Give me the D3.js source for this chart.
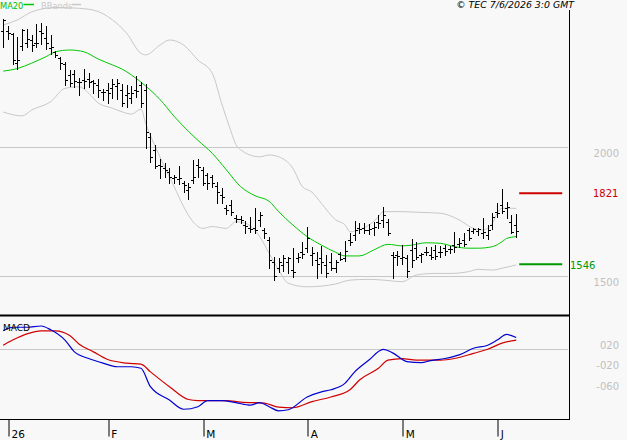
<!DOCTYPE html>
<html>
<head>
<meta charset="utf-8">
<script src="https://cdn.jsdelivr.net/npm/d3@7"></script>
<style>
  html, body { margin: 0; padding: 0; background: #f8f8f8; }
  svg { display: block; font-family: "DejaVu Sans", Verdana, sans-serif; }
</style>
</head>
<body>
<svg id="chart" width="627" height="440"></svg>
<script>
// daily bars, 31 Dec 2025 .. 5 Jun 2026 (index 0..108)
const open = [2453,2452,2440,2328,2394,2405,2417,2405,2452,2425,2386,2370,2347,2324,2281,2285,2254,2261,2265,2258,
  2242,2215,2223,2230,2238,2223,2203,2191,2223,2242,2223,2040,1990,1931,1920,1904,1881,1877,1861,1834,
  1873,1931,1912,1892,1885,1850,1815,1764,1776,1725,1721,1698,1686,1686,1718,1679,1640,1554,1531,1543,
  1554,1523,1570,1593,1609,1582,1562,1570,1543,1554,1531,1585,1570,1640,1659,1686,1686,1679,1686,1710,
  1718,1710,1582,1582,1570,1570,1601,1609,1582,1593,1582,1601,1593,1609,1605,1620,1624,1640,1679,1675,
  1675,1667,1659,1698,1749,1776,1764,1711,1698];
const high = [2497,2472,2443,2427,2458,2458,2436,2479,2484,2471,2436,2375,2352,2333,2300,2300,2268,2303,2287,2261,
  2264,2225,2249,2264,2264,2246,2242,2238,2277,2255,2246,2054,2009,1953,1938,1918,1892,1927,1870,1862,
  1951,1953,1922,1899,1892,1866,1841,1776,1795,1737,1733,1715,1728,1763,1750,1685,1653,1575,1569,1582,
  1573,1608,1591,1633,1689,1611,1594,1617,1582,1588,1562,1594,1637,1666,1715,1705,1705,1702,1711,1737,
  1769,1720,1594,1598,1620,1582,1643,1633,1588,1614,1614,1620,1617,1620,1617,1672,1646,1668,1685,1685,
  1685,1724,1698,1744,1782,1837,1789,1737,1741];
const low = [2389,2420,2324,2303,2378,2391,2375,2391,2400,2381,2361,2352,2303,2242,2238,2235,2203,2229,2235,2212,
  2194,2184,2171,2193,2186,2160,2158,2171,2197,2158,1996,1944,1918,1880,1886,1862,1862,1857,1827,1798,
  1862,1886,1853,1837,1847,1782,1785,1741,1737,1711,1707,1668,1672,1668,1694,1646,1530,1484,1517,1521,
  1510,1495,1556,1569,1594,1543,1491,1510,1495,1523,1517,1562,1559,1620,1640,1668,1666,1663,1659,1685,
  1692,1659,1491,1543,1547,1497,1536,1565,1556,1582,1565,1565,1575,1582,1588,1594,1614,1617,1640,1668,
  1659,1646,1643,1681,1730,1746,1724,1668,1653];
const close = [2495,2444,2339,2339,2456,2421,2399,2406,2444,2405,2390,2359,2328,2261,2251,2259,2255,2259,2254,2250,
  2223,2216,2211,2246,2250,2173,2211,2211,2220,2171,2061,1963,1927,1927,1912,1886,1885,1881,1853,1846,
  1886,1922,1860,1862,1862,1827,1807,1756,1749,1721,1718,1694,1683,1679,1737,1667,1562,1500,1556,1569,
  1568,1517,1575,1585,1648,1589,1547,1556,1512,1531,1554,1566,1598,1633,1679,1683,1679,1683,1692,1705,
  1737,1668,1575,1578,1574,1521,1562,1575,1585,1594,1575,1578,1594,1598,1604,1614,1627,1624,1646,1681,
  1681,1672,1679,1728,1746,1754,1769,1672,1676];

// MA20 (bar index, value)
const maIdx = [0,3,6,9,11,14,17,20,23,25,27,30,33,36,39,41,44,47,50,53,56,58,61,64,67,70,72,75,78,81,84,86,89,92,95,98,100,103,105,106,108];
const maVal = [2296,2306,2327,2352,2371,2378,2371,2343,2320,2304,2281,2238,2186,2120,2062,2027,1977,1912,1847,1812,
  1790,1750,1698,1653,1620,1592,1578,1578,1601,1623,1617,1620,1629,1627,1614,1608,1608,1614,1633,1646,1653];

// Bollinger bands
const bbUpIdx = [0,3,6,11,15,19,23,26,29,30,33,35,38,41,44,46,48,49,50,54,56,58,61,63,65,67,70,72,73,75,77,79,80,84,88,92,96,99,101,103,104,105,108];
const bbUpVal = [2475,2495,2526,2543,2541,2533,2495,2443,2365,2359,2397,2417,2397,2339,2288,2170,2060,2010,1990,1963,
  1970,1963,1918,1847,1826,1782,1718,1698,1672,1679,1698,1730,1750,1750,1747,1744,1718,1685,1679,1705,1744,1763,1763];
const bbLoIdx = [0,4,6,10,13,16,18,20,23,25,27,29,30,33,36,38,40,42,44,47,49,51,54,56,58,60,64,70,73,77,80,84,87,91,94,98,100,103,105,108];
const bbLoVal = [2137,2122,2145,2177,2229,2235,2210,2172,2152,2138,2129,2148,2093,1963,1847,1769,1710,1685,1692,1685,
  1711,1705,1653,1588,1523,1472,1458,1469,1484,1487,1484,1478,1504,1510,1510,1517,1526,1523,1530,1543];

// MACD and signal
const macdIdx = [0,2,5,8,10,13,15,18,21,24,27,29,31,35,38,41,43,46,49,52,54,56,58,60,64,67,69,72,74,77,80,82,85,88,90,93,96,99,102,104,106,108];
const macdVal = [0.36,0.43,0.43,0.455,0.38,0.18,-0.05,-0.18,-0.27,-0.34,-0.34,-0.37,-0.73,-0.99,-1.17,-1.12,-1.00,-1.00,-1.04,-1.09,
  -1.04,-1.12,-1.20,-1.18,-0.93,-0.83,-0.79,-0.66,-0.44,-0.21,0.0,-0.07,-0.24,-0.26,-0.22,-0.18,-0.11,0.02,0.08,0.18,0.29,0.23];
const sigIdx = [0,2,5,8,11,14,16,19,22,26,29,31,35,39,41,47,50,55,58,61,65,69,73,75,79,81,84,87,92,95,99,102,105,108];
const sigVal = [0.08,0.18,0.30,0.36,0.36,0.27,0.10,-0.05,-0.20,-0.27,-0.29,-0.44,-0.73,-0.98,-1.00,-1.00,-1.03,-1.05,-1.13,-1.14,
  -1.02,-0.93,-0.79,-0.60,-0.37,-0.21,-0.18,-0.21,-0.21,-0.18,-0.08,0.0,0.12,0.18];

const monthIdx = [1,22,42,64,84,104];
const monthLabels = ["26","F","M","A","M","J"];
const priceTicks = [1500,2000];
const macdTicks = [0.2,-0.2,-0.6];
const macdTickLabels = ["020","-020","-060"];
const resistance = 1821;
const support = 1546;

const svg = d3.select("#chart");
const W = 627, H = 440;
const plotRight = 569;

svg.append("rect").attr("width", W).attr("height", H).attr("fill", "#f8f8f8");

const xScale = d3.scaleLinear().domain([0, 108]).range([3.2, 516.2]);
const yPrice = d3.scaleLinear().domain([1500, 2000]).range([276, 147.3]);
const yMacd = d3.scaleLinear().domain([-0.6, 0.2]).range([380.05, 339.05]);

svg.append("clipPath").attr("id", "mainClip")
  .append("rect").attr("x", 0).attr("y", 0).attr("width", plotRight).attr("height", 314);
svg.append("clipPath").attr("id", "macdClip")
  .append("rect").attr("x", 0).attr("y", 317).attr("width", plotRight).attr("height", 102);

// grid lines
svg.append("g").selectAll("line").data(priceTicks).join("line")
  .attr("x1", 0).attr("x2", plotRight - 1)
  .attr("y1", d => Math.round(yPrice(d)) + 0.5).attr("y2", d => Math.round(yPrice(d)) + 0.5)
  .attr("stroke", "#c8c8c8");
svg.append("line")
  .attr("x1", 0).attr("x2", plotRight - 1)
  .attr("y1", Math.round(yMacd(0)) + 0.5).attr("y2", Math.round(yMacd(0)) + 0.5)
  .attr("stroke", "#c8c8c8");

const main = svg.append("g").attr("clip-path", "url(#mainClip)");

const bandLine = (idx, vals) => d3.line()
  .x(d => xScale(idx[d]))
  .y(d => yPrice(vals[d]))
  .curve(d3.curveMonotoneX)(d3.range(idx.length));

main.append("path").attr("d", bandLine(bbUpIdx, bbUpVal))
  .attr("fill", "none").attr("stroke", "#c8c8c8").attr("stroke-width", 1);
main.append("path").attr("d", bandLine(bbLoIdx, bbLoVal))
  .attr("fill", "none").attr("stroke", "#c8c8c8").attr("stroke-width", 1);
main.append("path").attr("d", bandLine(maIdx, maVal))
  .attr("fill", "none").attr("stroke", "#00c800").attr("stroke-width", 1);

// OHLC bars
const px = i => Math.round(xScale(i)) + 0.5;
const py = v => Math.round(yPrice(v)) + 0.5;
main.append("g").selectAll("path").data(d3.range(open.length)).join("path")
  .attr("d", i => `M${px(i)},${py(high[i]) - 0.5}V${py(low[i]) + 0.5}` +
                  `M${px(i) - 2.5},${py(open[i])}H${px(i)}` +
                  `M${px(i)},${py(close[i])}H${px(i) + 2.5}`)
  .attr("fill", "none").attr("stroke", "#000").attr("stroke-width", 1)
  .attr("shape-rendering", "crispEdges");

// support / resistance marks
const lvlX0 = xScale(108) + 3;
const lvlX1 = lvlX0 + 43;
svg.append("line").attr("x1", lvlX0).attr("x2", lvlX1)
  .attr("y1", yPrice(resistance)).attr("y2", yPrice(resistance))
  .attr("stroke", "#cc0000").attr("stroke-width", 2);
svg.append("line").attr("x1", lvlX0).attr("x2", lvlX1)
  .attr("y1", yPrice(support)).attr("y2", yPrice(support))
  .attr("stroke", "#009900").attr("stroke-width", 2);
svg.append("text").attr("x", 593).attr("y", yPrice(resistance) + 4)
  .attr("fill", "#cc0000").style("font-size", "10px").text(resistance);
svg.append("text").attr("x", 570).attr("y", yPrice(support) + 5)
  .attr("fill", "#009900").style("font-size", "10px").text(support);

// MACD panel
const macdG = svg.append("g").attr("clip-path", "url(#macdClip)");
const macdLine = (idx, vals) => d3.line()
  .x(d => xScale(idx[d]))
  .y(d => yMacd(vals[d]))
  .curve(d3.curveMonotoneX)(d3.range(idx.length));
macdG.append("path").attr("d", macdLine(sigIdx, sigVal))
  .attr("fill", "none").attr("stroke", "#d00000").attr("stroke-width", 1.2);
macdG.append("path").attr("d", macdLine(macdIdx, macdVal))
  .attr("fill", "none").attr("stroke", "#0000d0").attr("stroke-width", 1.2);

// right axes
const priceAxis = svg.append("g").attr("transform", `translate(${plotRight},0)`)
  .call(d3.axisRight(yPrice).tickValues(priceTicks).tickSize(0).tickFormat(d3.format("d")));
priceAxis.select(".domain").remove();
priceAxis.selectAll("text")
  .attr("x", 50).attr("dy", 9.2).attr("text-anchor", "end")
  .attr("fill", "#c0c0c0").style("font-family", "'DejaVu Sans'").style("font-size", "10px");

const macdAxis = svg.append("g").attr("transform", `translate(${plotRight},0)`)
  .call(d3.axisRight(yMacd).tickValues(macdTicks).tickSize(0)
    .tickFormat((d, i) => macdTickLabels[i]));
macdAxis.select(".domain").remove();
macdAxis.selectAll("text")
  .attr("x", 50).attr("dy", 9.2).attr("text-anchor", "end")
  .attr("fill", "#c0c0c0").style("font-family", "'DejaVu Sans'").style("font-size", "10px");

// frame
svg.append("line").attr("x1", plotRight + 0.5).attr("x2", plotRight + 0.5)
  .attr("y1", 10).attr("y2", 419.5).attr("stroke", "#000");
svg.append("line").attr("x1", 0).attr("x2", plotRight + 1)
  .attr("y1", 315.5).attr("y2", 315.5).attr("stroke", "#000").attr("stroke-width", 2);
svg.append("line").attr("x1", 0).attr("x2", plotRight + 1)
  .attr("y1", 419.5).attr("y2", 419.5).attr("stroke", "#000");

// month axis
const xAxis = svg.append("g").attr("transform", "translate(0,419.5)")
  .call(d3.axisBottom(xScale).tickValues(monthIdx).tickSize(17)
    .tickFormat((d, i) => monthLabels[i]));
xAxis.select(".domain").remove();
xAxis.selectAll(".tick line").attr("stroke", "#000")
  .attr("transform", d => `translate(${Math.round(xScale(d)) + 0.5 - xScale(d)},0)`);
xAxis.selectAll("text")
  .attr("x", 3).attr("y", 18).attr("dy", 0).attr("text-anchor", "start")
  .attr("fill", "#000").style("font-family", "'DejaVu Sans'").style("font-size", "10.5px");

// legends and header
svg.append("text").attr("x", 0).attr("y", 8.5).attr("fill", "#00c000")
  .style("font-size", "8.3px").text("MA20");
svg.append("line").attr("x1", 23.5).attr("x2", 34).attr("y1", 4.5).attr("y2", 4.5)
  .attr("stroke", "#00c800").attr("stroke-width", 1.5);
svg.append("text").attr("x", 41).attr("y", 8.5).attr("fill", "#c8c8c8")
  .style("font-size", "8.3px").text("BBands");
svg.append("line").attr("x1", 72).attr("x2", 81).attr("y1", 4.5).attr("y2", 4.5)
  .attr("stroke", "#c8c8c8").attr("stroke-width", 1.5);

svg.append("text").attr("x", 3).attr("y", 330.5).attr("fill", "#000")
  .style("font-size", "9px").text("MACD");

svg.append("text").attr("x", 574).attr("y", 7.5).attr("text-anchor", "end")
  .attr("fill", "#000").style("font-size", "9.4px").style("font-style", "italic")
  .text("© TEC 7/6/2026 3:0 GMT");
</script>
</body>
</html>
